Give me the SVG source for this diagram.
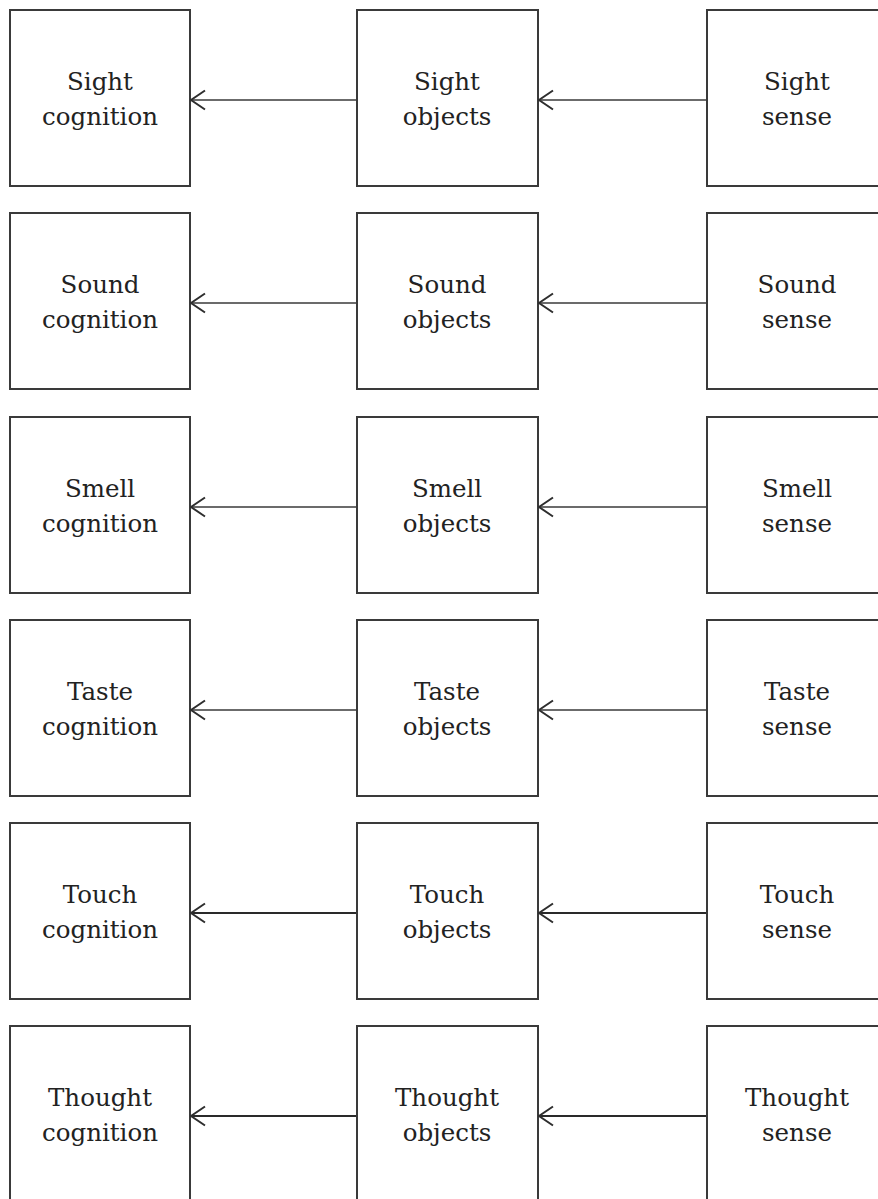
<svg xmlns="http://www.w3.org/2000/svg" width="878" height="1199" viewBox="0 0 878 1199">
  <style>
    .box { fill: #fff; stroke: #3a3a3a; stroke-width: 2; }
    .lbl { font-family: "DejaVu Serif", "Liberation Serif", serif; font-size: 24.5px; fill: #222; text-anchor: middle; }
    .link { stroke: #3a3a3a; stroke-width: 1.5; fill: none; marker-end: url(#chev); }
    .link.heavy { stroke: #2a2a2a; stroke-width: 2.2; }
  </style>
  <defs>
    <!-- open chevron; tip sits on the line end -->
    <marker id="chev" viewBox="0 0 16 22" refX="15" refY="11" markerWidth="16" markerHeight="22" markerUnits="userSpaceOnUse" orient="auto">
      <path d="M1 1.5 L15 11 L1 20.5" fill="none" stroke="#2e2e2e" stroke-width="2"/>
    </marker>
  </defs>
  <rect width="878" height="1199" fill="#fff"/>

  <!-- row 1: sight -->
  <g id="sight-cognition"><rect class="box" x="10" y="10" width="180" height="176"/><text class="lbl" x="100" y="90">Sight</text><text class="lbl" x="100" y="125">cognition</text></g>
  <g id="sight-objects"><rect class="box" x="357" y="10" width="181" height="176"/><text class="lbl" x="447" y="90">Sight</text><text class="lbl" x="447" y="125">objects</text></g>
  <g id="sight-sense"><rect class="box" x="707" y="10" width="180" height="176"/><text class="lbl" x="797" y="90">Sight</text><text class="lbl" x="797" y="125">sense</text></g>

  <!-- row 2: sound -->
  <g id="sound-cognition"><rect class="box" x="10" y="213" width="180" height="176"/><text class="lbl" x="100" y="293">Sound</text><text class="lbl" x="100" y="328">cognition</text></g>
  <g id="sound-objects"><rect class="box" x="357" y="213" width="181" height="176"/><text class="lbl" x="447" y="293">Sound</text><text class="lbl" x="447" y="328">objects</text></g>
  <g id="sound-sense"><rect class="box" x="707" y="213" width="180" height="176"/><text class="lbl" x="797" y="293">Sound</text><text class="lbl" x="797" y="328">sense</text></g>

  <!-- row 3: smell -->
  <g id="smell-cognition"><rect class="box" x="10" y="417" width="180" height="176"/><text class="lbl" x="100" y="497">Smell</text><text class="lbl" x="100" y="532">cognition</text></g>
  <g id="smell-objects"><rect class="box" x="357" y="417" width="181" height="176"/><text class="lbl" x="447" y="497">Smell</text><text class="lbl" x="447" y="532">objects</text></g>
  <g id="smell-sense"><rect class="box" x="707" y="417" width="180" height="176"/><text class="lbl" x="797" y="497">Smell</text><text class="lbl" x="797" y="532">sense</text></g>

  <!-- row 4: taste -->
  <g id="taste-cognition"><rect class="box" x="10" y="620" width="180" height="176"/><text class="lbl" x="100" y="700">Taste</text><text class="lbl" x="100" y="735">cognition</text></g>
  <g id="taste-objects"><rect class="box" x="357" y="620" width="181" height="176"/><text class="lbl" x="447" y="700">Taste</text><text class="lbl" x="447" y="735">objects</text></g>
  <g id="taste-sense"><rect class="box" x="707" y="620" width="180" height="176"/><text class="lbl" x="797" y="700">Taste</text><text class="lbl" x="797" y="735">sense</text></g>

  <!-- row 5: touch -->
  <g id="touch-cognition"><rect class="box" x="10" y="823" width="180" height="176"/><text class="lbl" x="100" y="903">Touch</text><text class="lbl" x="100" y="938">cognition</text></g>
  <g id="touch-objects"><rect class="box" x="357" y="823" width="181" height="176"/><text class="lbl" x="447" y="903">Touch</text><text class="lbl" x="447" y="938">objects</text></g>
  <g id="touch-sense"><rect class="box" x="707" y="823" width="180" height="176"/><text class="lbl" x="797" y="903">Touch</text><text class="lbl" x="797" y="938">sense</text></g>

  <!-- row 6: thought -->
  <g id="thought-cognition"><rect class="box" x="10" y="1026" width="180" height="176"/><text class="lbl" x="100" y="1106">Thought</text><text class="lbl" x="100" y="1141">cognition</text></g>
  <g id="thought-objects"><rect class="box" x="357" y="1026" width="181" height="176"/><text class="lbl" x="447" y="1106">Thought</text><text class="lbl" x="447" y="1141">objects</text></g>
  <g id="thought-sense"><rect class="box" x="707" y="1026" width="180" height="176"/><text class="lbl" x="797" y="1106">Thought</text><text class="lbl" x="797" y="1141">sense</text></g>

  <!-- connectors: sense -> objects -> cognition, one pair per row -->
  <g id="connectors">
    <line class="link" x1="706" y1="100" x2="539" y2="100"/>
    <line class="link" x1="356" y1="100" x2="191" y2="100"/>
    <line class="link" x1="706" y1="303" x2="539" y2="303"/>
    <line class="link" x1="356" y1="303" x2="191" y2="303"/>
    <line class="link" x1="706" y1="507" x2="539" y2="507"/>
    <line class="link" x1="356" y1="507" x2="191" y2="507"/>
    <line class="link" x1="706" y1="710" x2="539" y2="710"/>
    <line class="link" x1="356" y1="710" x2="191" y2="710"/>
    <line class="link heavy" x1="706" y1="913" x2="539" y2="913"/>
    <line class="link heavy" x1="356" y1="913" x2="191" y2="913"/>
    <line class="link heavy" x1="706" y1="1116" x2="539" y2="1116"/>
    <line class="link heavy" x1="356" y1="1116" x2="191" y2="1116"/>
  </g>
</svg>
